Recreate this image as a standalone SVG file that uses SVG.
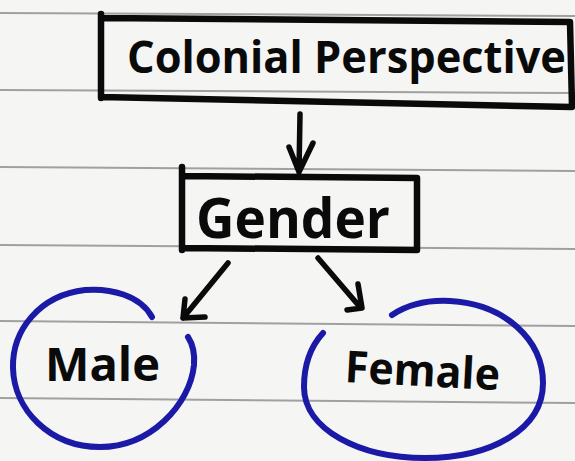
<svg xmlns="http://www.w3.org/2000/svg" width="575" height="461" viewBox="0 0 575 461">
<style>
.paper{fill:#f5f5f4}
.rule{stroke:#a0a0a0;stroke-width:2;fill:none}
.box{fill:none;stroke:#0a0a0a;stroke-width:6.5;stroke-linecap:round;stroke-linejoin:round}
.arrow{fill:none;stroke:#0a0a0a;stroke-width:5.5;stroke-linecap:round;stroke-linejoin:round}
.ring{fill:none;stroke:#1a1aa6;stroke-width:6;stroke-linecap:round}
.lbl{font-family:"Open Sans","Liberation Sans",sans-serif;font-weight:700;fill:#0a0a0a}
</style>
<rect class="paper" x="0" y="0" width="575" height="461"/>
<g id="paper-rules">
<path class="rule" d="M0,13 L575,16"/>
<path class="rule" d="M0,90 L575,93"/>
<path class="rule" d="M0,167 L575,171"/>
<path class="rule" d="M0,245 L575,249"/>
<path class="rule" d="M0,321 L575,326"/>
<path class="rule" d="M0,398 L575,403"/>
</g>
<g id="node-colonial">
<path class="box" d="M101,14 L101,98 M101,18 L570,22 L572,106 M101,97 L572,107"/>
<text class="lbl" x="127" y="73" font-size="44" textLength="439" lengthAdjust="spacingAndGlyphs">Colonial Perspective</text>
</g>
<g id="node-gender">
<path class="box" d="M182,167 L182,250 M182,176 L417,178 L417,250 M182,248 L417,250"/>
<text class="lbl" x="196" y="238" font-size="56" textLength="194" lengthAdjust="spacingAndGlyphs">Gender</text>
</g>
<g id="node-male">
<path class="ring" d="M152,317 C140,295 110,288 85,290 C40,295 12,330 13,368 C14,410 50,447 100,447 C150,447 190,405 194,365 C195,352 192,343 188,337"/>
<text class="lbl" x="45" y="381" font-size="46" textLength="115" lengthAdjust="spacingAndGlyphs">Male</text>
</g>
<g id="node-female">
<path class="ring" d="M392,315 C410,303 430,300 450,301 C505,304 543,340 543,383 C543,430 490,458 425,458 C360,458 304,430 304,387 C304,362 312,345 323,333"/>
<text class="lbl" x="345" y="386" font-size="44" textLength="155" lengthAdjust="spacingAndGlyphs" transform="rotate(3 420 372)">Female</text>
</g>
<g id="connectors">
<path class="arrow" d="M300,114 L299,172 M289,147 L299,172 L313,143"/>
<path class="arrow" d="M228,263 L183,318 M185,299 L183,318 L205,317"/>
<path class="arrow" d="M318,258 L360,307 M358,284 L362,308 L347,310"/>
</g>
</svg>
